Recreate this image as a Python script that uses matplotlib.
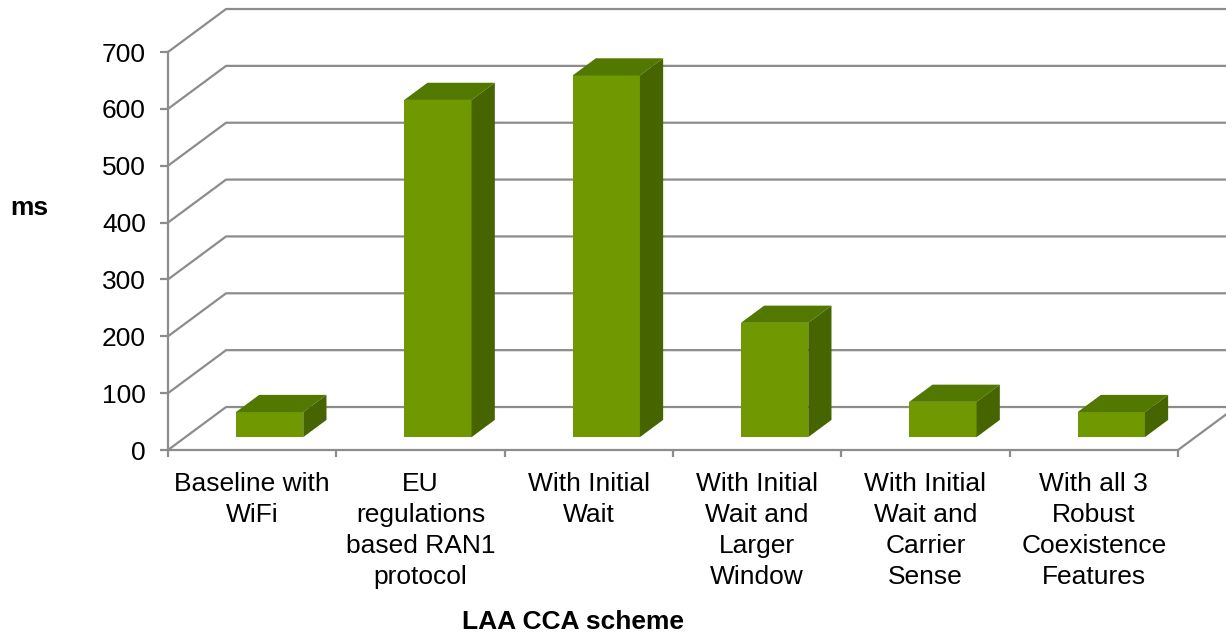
import matplotlib
matplotlib.use("Agg")
import matplotlib.pyplot as plt
from matplotlib.patches import Polygon

plt.rcParams["font.family"] = ["Liberation Sans", "DejaVu Sans"]

categories = [
    "Baseline with\nWiFi",
    "EU\nregulations\nbased RAN1\nprotocol",
    "With Initial\nWait",
    "With Initial\nWait and\nLarger\nWindow",
    "With Initial\nWait and\nCarrier\nSense",
    "With all 3\nRobust\nCoexistence\nFeatures",
]
delay_ms = [44, 593, 636, 201, 62, 44]
y_ticks = [0, 100, 200, 300, 400, 500, 600, 700]

FRONT = "#709800"
TOP = "#527800"
SIDE = "#466400"
GRID = "#8c8c8c"

# depth offset of the back wall, in data units (x: categories, y: ms)
DX = 0.345
DY = 75.6
BAR_W = 0.4
D0, D1 = 0.3, 0.7  # bar front/back depth as fraction of the floor depth

W, H = 1226, 636
fig = plt.figure(figsize=(W / 100, H / 100), dpi=100)
ax = fig.add_axes([168 / W, (H - 450) / H, (1178 - 168) / W, 398 / H])
ax.set_xlim(0, len(categories))
ax.set_ylim(0, 700)

# back wall gridlines + their diagonals to the front axis
n = len(categories)
for v in y_ticks:
    ax.plot([0, DX, n + DX], [v, v + DY, v + DY], color=GRID, lw=1.6,
            clip_on=False, zorder=1, solid_capstyle="butt")
# right floor edge
ax.plot([n, n + DX], [0, DY], color=GRID, lw=1.6, clip_on=False, zorder=1)

# 3d bars: front face, top and right side
for i, v in enumerate(delay_ms):
    x0 = i + 0.5 - BAR_W / 2 + D0 * DX
    x1 = x0 + BAR_W
    y0 = D0 * DY
    y1 = y0 + v
    ddx = (D1 - D0) * DX
    ddy = (D1 - D0) * DY
    front = Polygon([(x0, y0), (x1, y0), (x1, y1), (x0, y1)], closed=True,
                    facecolor=FRONT, edgecolor="none", zorder=3, clip_on=False)
    top = Polygon([(x0, y1), (x1, y1), (x1 + ddx, y1 + ddy), (x0 + ddx, y1 + ddy)],
                  closed=True, facecolor=TOP, edgecolor="none", zorder=3, clip_on=False)
    side = Polygon([(x1, y0), (x1 + ddx, y0 + ddy), (x1 + ddx, y1 + ddy), (x1, y1)],
                   closed=True, facecolor=SIDE, edgecolor="none", zorder=3, clip_on=False)
    for p in (front, top, side):
        ax.add_patch(p)

for side_name in ("top", "right"):
    ax.spines[side_name].set_visible(False)
for side_name in ("left", "bottom"):
    ax.spines[side_name].set_color(GRID)
    ax.spines[side_name].set_linewidth(1.6)
ax.set_facecolor("none")

ax.set_yticks(y_ticks)
ax.tick_params(axis="y", length=6, width=1.6, color=GRID, labelsize=19, pad=10)
ax.set_xticks(range(n + 1), minor=True)
ax.tick_params(axis="x", which="minor", length=5, width=1.6, color=GRID)
ax.set_xticks([i + 0.5 for i in range(n)])
ax.set_xticklabels(categories, fontsize=19, linespacing=1.37)
ax.tick_params(axis="x", which="major", length=0, pad=15.5)

fig.text(29 / W, 1 - 208 / H, "ms", ha="center", va="center",
         fontsize=19, fontweight="bold")
fig.text(573 / W, 1 - 622 / H, "LAA CCA scheme", ha="center", va="center",
         fontsize=19, fontweight="bold")

fig.savefig("out.png", dpi=100)
